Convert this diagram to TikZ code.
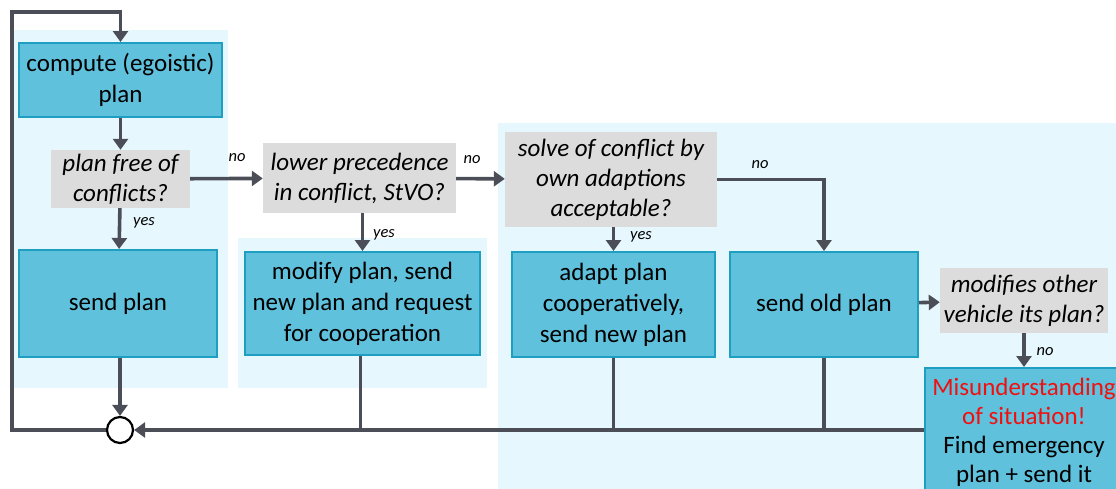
\documentclass[tikz,border=0pt]{standalone}
\usepackage{fontspec}
\setmainfont{Carlito}
\usetikzlibrary{arrows.meta,calc}
\definecolor{zone}{HTML}{E6F8FD}
\definecolor{boxfill}{HTML}{5FC1DC}
\definecolor{boxline}{HTML}{1E9EC0}
\definecolor{askfill}{HTML}{DCDCDC}
\definecolor{wire}{HTML}{4B4E57}
\definecolor{alarm}{HTML}{F01010}
\tikzset{
  action/.style={draw=boxline, fill=boxfill, line width=2pt, align=center,
    inner sep=0pt, font=\fontsize{25}{31}\selectfont},
  ask/.style={fill=askfill, align=center, inner sep=0pt,
    font=\fontsize{25}{30}\selectfont\itshape},
  conn/.style={draw=wire, line width=3.6pt, line join=miter,
    -{Triangle[length=11pt,width=15pt]}},
  link/.style={draw=wire, line width=3.6pt, line join=miter},
  tag/.style={font=\fontsize{16.5}{18}\selectfont\itshape, inner sep=0pt},
}
\begin{document}
\begin{tikzpicture}[x=1pt,y=-1pt]
  \useasboundingbox (0,0) rectangle (1116,488);
  \clip (0,0) rectangle (1116,488);
  % shaded groups
  \fill[zone] (13,30) rectangle (228,388);
  \fill[zone] (238,238) rectangle (487,388);
  \fill[zone] (498,123) rectangle (1120,492);

  % steps and decisions
  \node[action, minimum width=203pt, minimum height=74pt] (compute) at (120.5,80) {compute (egoistic)\\plan};
  \node[ask, minimum width=139pt, minimum height=58pt] (free) at (120.5,179) {plan free of\\conflicts?};
  \node[action, minimum width=198pt, minimum height=107pt] (sendplan) at (118,303.5) {send plan};
  \node[ask, minimum width=193pt, minimum height=70pt] (lower) at (359.5,178) {lower precedence\\in conflict, StVO?};
  \node[action, minimum width=235pt, minimum height=103pt] (modify) at (362.5,303.5) {modify plan, send\\new plan and request\\for cooperation};
  \node[ask, minimum width=212pt, minimum height=95pt] (solve) at (611,179.5) {solve of conflict by\\own adaptions\\acceptable?};
  \node[action, minimum width=203pt, minimum height=105pt] (adapt) at (613.5,304.5) {adapt plan\\cooperatively,\\send new plan};
  \node[action, minimum width=188pt, minimum height=105pt] (sendold) at (824,304.5) {send old plan};
  \node[ask, minimum width=168pt, minimum height=65pt] (modifies) at (1024,300.5) {modifies other\\vehicle its plan?};
  \node[action, font=\fontsize{25}{29}\selectfont, minimum width=198pt, minimum height=128pt, anchor=north] (misund) at (1024,367)
    {\textcolor{alarm}{Misunderstanding}\\\textcolor{alarm}{of situation!}\\Find emergency\\plan + send it};
  \node[draw=black, line width=2.2pt, fill=white, circle, minimum size=26pt, inner sep=0pt] (merge) at (120,430) {};
  \coordinate (loopc) at (12,12);

  % main flow
  \draw[conn] (compute) -- (free);
  \draw[conn] (free) -- (sendplan);
  \draw[conn] (free) -- (lower);
  \draw[conn] (lower) -- (solve);
  \draw[conn] (lower.south -| modify) -- (modify);
  \draw[conn] (solve.south -| adapt) -- (adapt);
  \draw[conn] (solve.east) -| (sendold.north);
  \draw[conn] (sendold) -- (modifies);
  \draw[conn] (modifies) -- (misund);

  % return paths
  \draw[conn] (sendplan.south -| merge) -- (merge);
  \draw[conn] (misund.west |- merge) -- (merge.east);
  \draw[link] ([xshift=-2pt]modify.south) -- ([xshift=-2pt]modify.south |- merge);
  \draw[link] (adapt.south) -- (adapt.south |- merge);
  \draw[link] (sendold.south) -- (sendold.south |- merge);
  \draw[conn] (merge.west) -| (loopc) -| (compute.north);

  % branch labels
  \node[tag] (n1) at (237,158) {no};
  \node[tag] (n2) at (472,160) {no};
  \node[tag] (n3) at (760,165) {no};
  \node[tag] (n4) at (1045,352) {no};
  \node[tag] (y1) at (144,223) {yes};
  \node[tag] (y2) at (384,235) {yes};
  \node[tag] (y3) at (641,237) {yes};
\end{tikzpicture}
\end{document}
